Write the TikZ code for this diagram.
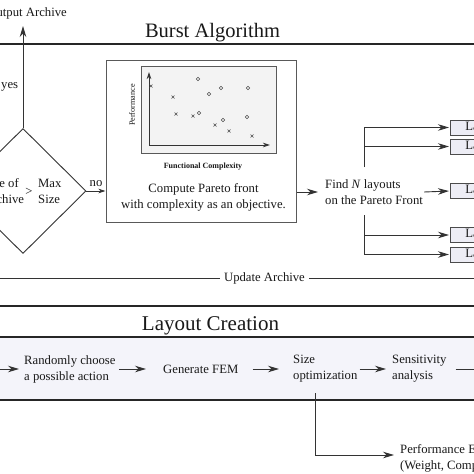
\documentclass[tikz,border=0pt]{standalone}
\usepackage{fontspec}
\setmainfont{Liberation Serif}
\usetikzlibrary{shapes.geometric,arrows.meta}
\definecolor{lav}{HTML}{EDEDF5}
\definecolor{bandc}{HTML}{F4F4FA}
\definecolor{plotbg}{HTML}{F3F3F3}
\begin{document}
\begin{tikzpicture}[x=1pt,y=-1pt,
  txt/.style={font=\fontsize{12.7}{15.9}\selectfont, text=black!90, inner sep=0pt},
  ln/.style={draw=black!80, line width=0.9pt},
  arr/.style={ln, -{Stealth[length=11pt,width=6.5pt,inset=3.5pt]}, shorten >=1pt},
  sarr/.style={ln, -{Stealth[length=7pt,width=4.5pt,inset=2pt]}},
  lbox/.style={draw=black!70, line width=0.8pt, fill=lav, anchor=west, inner xsep=15pt, inner ysep=0pt, minimum height=15pt, font=\fontsize{12.7}{15.9}\selectfont, text=black!90},
  secline/.style={draw=black!85, line width=1.6pt},
  mk/.style={draw=black!70, line width=0.6pt}
]
\useasboundingbox (0,0) rectangle (474,474);
\fill[white] (0,0) rectangle (474,474);

% ---------------- Burst Algorithm ----------------
\node[txt, anchor=base, font=\fontsize{20.5}{24}\selectfont] (t1) at (212.5,37) {Burst Algorithm};
\draw[secline, line width=1.3pt] (-10,44) -- (490,44);

\node[txt, anchor=east] (out) at (67,13) {Output Archive};
\node[diamond, ln, minimum width=126pt, minimum height=125pt, inner sep=0pt] (dia) at (23,191) {};
\coordinate (outtip) at (23,25);
\draw[arr] (dia.north) -- (outtip);
\node[txt, anchor=west] (yes) at (1,87) {yes};
\node[txt, anchor=west, align=left] (dl) at (-17,191) {Size of\\Archive};
\node[txt] (gt) at (29,192) {>};
\node[txt, anchor=west, align=left] (dr) at (38,191) {Max\\Size};

% Pareto box
\node[draw=black!65, line width=1pt, minimum width=190pt, minimum height=162pt, inner sep=0pt] (pbox) at (201,141) {};
\node[draw=black!65, line width=0.8pt, fill=plotbg, minimum width=135pt, minimum height=87pt, inner sep=0pt] (plot) at (208.5,109.5) {};
\coordinate (org) at (149,145);
\coordinate (ytip) at (149,72);
\coordinate (xtip) at (270,145);
\draw[sarr] (org) -- (ytip);
\draw[sarr] (org) -- (xtip);
\foreach \x/\y in {151/86,173/97,176/114,193/116,215/125,229/131,252/136}
  \draw[mk] (\x,\y) +(-1.5,-1.5) -- +(1.5,1.5) +(-1.5,1.5) -- +(1.5,-1.5);
\foreach \x/\y in {198/79,209/94,221/88,248/88,199/113,223/120,247/117}
  \draw[mk] (\x,\y) circle[radius=1.8pt];
\node[txt, font=\fontsize{8.2}{10}\selectfont, rotate=90] (perfl) at (132,105) {Performance};
\node[txt, font=\bfseries\fontsize{8}{10}\selectfont] (fc) at (203,167) {Functional Complexity};
\node[txt, align=center] (cp) at (203.5,197) {Compute Pareto front\\with complexity as an objective.};

\draw[sarr] (dia.east) -- (dia.east -| pbox.west);
\node[txt, anchor=base] (no) at (96,186) {no};

% Find N layouts
\node[txt, anchor=west, align=left] (find) at (325,192) {Find \textit{N} layouts\\on the Pareto Front};
\draw[arr] (pbox.east |- find.west) -- ([xshift=-6pt]find.west);

\node[lbox] (L1) at (450,127.5) {Layout 1};
\node[lbox] (L2) at (450,146.5) {Layout 2};
\node[lbox] (L3) at (450,191) {Layout 3};
\node[lbox] (L4) at (450,235) {Layout 4};
\node[lbox] (L5) at (450,254.5) {Layout 5};
\coordinate (vt) at (364,167);
\coordinate (vb) at (364,215);
\draw[arr] (vt) |- (L1.west);
\draw[arr] (vt |- L2.west) -- (L2.west);
\draw[arr] ([xshift=1pt]find.east) -- (L3.west);
\draw[arr] (vb) |- (L5.west);
\draw[arr] (vb |- L4.west) -- (L4.west);

% Update Archive
\node[txt] (upd) at (264.5,278) {Update Archive};
\coordinate (ul) at (-10,278);
\coordinate (ur) at (490,278);
\draw[ln] (ul) -- ([xshift=-4pt]upd.west);
\draw[ln] ([xshift=4pt]upd.east) -- (ur);

% ---------------- Layout Creation ----------------
\fill[bandc] (-10,337) rectangle (490,400);
\draw[secline] (-10,306) -- (490,306);
\draw[secline] (-10,337) -- (490,337);
\draw[secline] (-10,400) -- (490,400);
\node[txt, anchor=base, font=\fontsize{21}{25}\selectfont] (t2) at (210.5,330) {Layout Creation};

\node[txt, anchor=west, align=left] (rc) at (24,369) {Randomly choose\\a possible action};
\node[txt, anchor=west] (fem) at (163,369) {Generate FEM};
\node[txt, anchor=west, align=left] (so) at (293,369) {Size\\optimization};
\node[txt, anchor=west, align=left] (sa) at (392,369) {Sensitivity\\analysis};
\coordinate (bl) at (-10,369);
\coordinate (br) at (490,369);
\draw[arr] (bl) -- ([xshift=-4pt]rc.west);
\draw[arr] ([xshift=3pt]rc.east) -- ([xshift=-16pt]fem.west);
\draw[arr] ([xshift=14pt]fem.east) -- ([xshift=-13pt]so.west);
\draw[arr] ([xshift=2pt]so.east) -- ([xshift=-5pt]sa.west);
\draw[ln] ([xshift=9pt]sa.east) -- (br);

\node[txt, anchor=west, align=left] (pe) at (400,458) {Performance Evaluation\\(Weight, Compliance)};
\coordinate (sv) at (315,393);
\draw[arr] (sv) |- ([xshift=-5pt,yshift=3pt]pe.west);
\end{tikzpicture}
\end{document}
